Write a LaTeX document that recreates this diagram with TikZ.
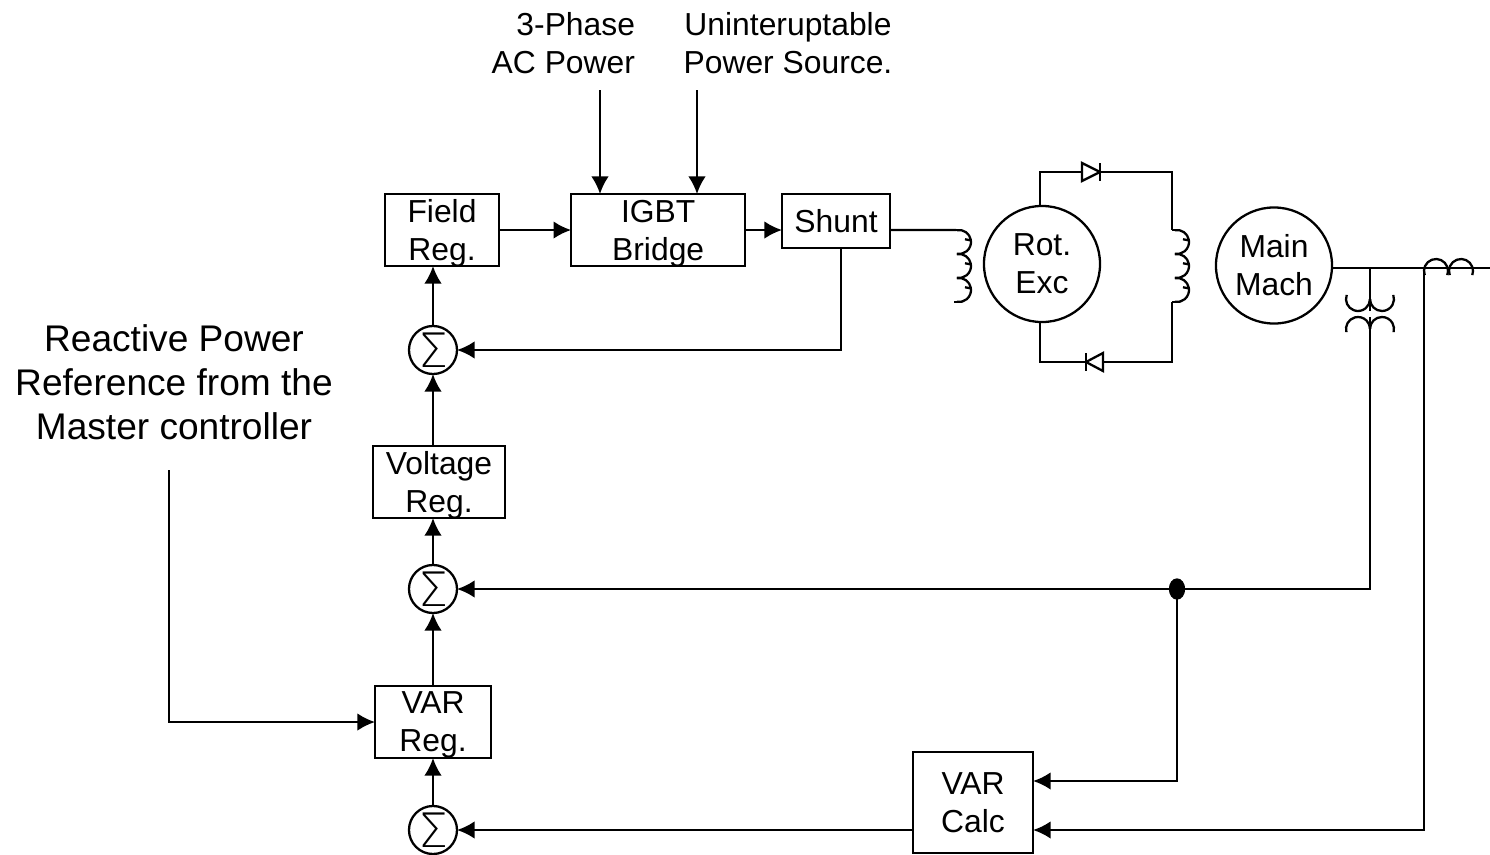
\documentclass[tikz,border=0pt]{standalone}
\usepackage{fontspec}
\setmainfont{Liberation Sans}
\newfontfamily\sigmafont{DejaVu Sans ExtraLight}
\usepackage{tikz}
\usetikzlibrary{arrows.meta, positioning, shapes.geometric, calc}

\tikzset{
    coil/.pic={
        \draw (-2,0) -- (3,0);
        \draw (-2,72) -- (3,72);
        \foreach \k in {0,1,2} {
            \draw[shift={(0,24*\k)}] (3,12) ++(100:0.12cm) arc[start angle=100, end angle=-100, radius=0.12cm];
            \draw[shift={(0,24*\k)}] (3,12) ++(8:0.12cm) -- ++(170:0.06cm);
        }
    }
}

\begin{document}
\begin{tikzpicture}[
    x=0.01cm, y=-0.01cm,
    line width=0.65pt,
    every node/.style={outer sep=0pt, font=\fontsize{9.05}{10.8}\selectfont},
    box/.style={draw, rectangle, inner sep=0pt, align=center, text depth=0pt},
    machine/.style={draw, circle, minimum size=1.16cm, inner sep=0pt, align=center},
    summer/.style={draw, circle, minimum size=0.48cm, inner sep=0pt, font=\sigmafont\fontsize{13.5}{13.5}\selectfont},
    textlabel/.style={align=center, inner sep=0pt},
    joint/.style={draw, fill=black, ellipse, minimum width=0.14cm, minimum height=0.19cm, inner sep=0pt},
    line/.style={draw, -{Latex[length=5pt, width=5pt]}},
    wire/.style={draw}
]
    \useasboundingbox (0,0) rectangle (1490,854);

    % Nodes
    \node[box, minimum width=1.14cm, minimum height=0.72cm, anchor=north west] (fieldreg) at (385,194) {Field\\Reg.};
    \node[box, right=0.72cm of fieldreg, minimum width=1.74cm, minimum height=0.72cm] (igbt) {IGBT\\Bridge};
    \node[box, minimum width=1.08cm, minimum height=0.54cm, anchor=north west] (shunt) at (782,194) {Shunt};
    \node[summer] (sumfield) at (433,350) {Σ};
    \node[box, minimum width=1.32cm, minimum height=0.72cm, anchor=north west] (voltreg) at (373,446) {Voltage\\Reg.};
    \node[summer] (sumvolt) at (433,589) {Σ};
    \node[box, minimum width=1.16cm, minimum height=0.72cm, anchor=north west] (varreg) at (375,686) {VAR\\Reg.};
    \node[summer] (sumvar) at (433,830) {Σ};
    \node[box, minimum width=1.2cm, minimum height=1.01cm, anchor=north west] (varcalc) at (913,752) {VAR\\Calc};
    \node[machine] (rotexc) at (1042,264) {Rot.\\Exc};
    \node[machine] (mainmach) at (1274,265.5) {Main\\Mach};
    \node[joint] (tap) at (1177,589) {};

    % Labels
    \node[textlabel, align=right, anchor=east] (acpower) at (635,43) {3-Phase\\AC Power};
    \node[textlabel] (upspower) at (788,43) {Uninteruptable\\Power Source.};
    \node[textlabel, font=\fontsize{10.55}{12.5}\selectfont] (varref) at (174,382) {Reactive Power\\Reference from the\\Master controller};

    % Free ends
    \coordinate (acin) at (600,90);
    \coordinate (upsin) at (697,90);
    \coordinate (refin) at (169,470);
    \coordinate (exccoil) at (956,230);
    \coordinate (rotcoiltop) at (1172,230);
    \coordinate (rotcoilbot) at (1172,302);
    \coordinate (diodetop) at (1082,172);
    \coordinate (diodetopend) at (1100,172);
    \coordinate (diodebot) at (1103,362);
    \coordinate (diodebotend) at (1086,362);
    \coordinate (busend) at (1490,268);
    \coordinate (pttop) at (1370,311);
    \coordinate (ptbot) at (1370,317);
    \coordinate (ctleft) at (1424,268);

    % Lines
    \draw[line] (acin) -- (acin |- igbt.north);
    \draw[line] (upsin) -- (upsin |- igbt.north);
    \draw[line] (fieldreg) -- (igbt);
    \draw[line] (igbt.east) -- (igbt.east -| shunt.west);
    \draw[wire] (igbt.east -| shunt.east) -- (exccoil);
    \draw[line] (shunt.south -| 841,0) |- (sumfield.east);
    \draw[line] (sumfield.north) -- (sumfield.north |- fieldreg.south);
    \draw[line] (sumfield.south |- voltreg.north) -- (sumfield.south);
    \draw[line] (sumvolt.north) -- (sumvolt.north |- voltreg.south);
    \draw[line] (sumvolt.south |- varreg.north) -- (sumvolt.south);
    \draw[line] (sumvar.north) -- (sumvar.north |- varreg.south);
    \draw[line] (varcalc.west |- sumvar.east) -- (sumvar.east);
    \draw[line] (refin) |- (varreg.west);

    % Feedback
    \draw[line] (ptbot) |- (sumvolt.east);
    \draw[line] (tap) |- (varcalc.east |- 0,781);
    \draw[line] (ctleft) |- (varcalc.east |- sumvar.east);

    % Rotor circuit
    \draw[wire] (rotexc.north -| 1040,0) |- (diodetop);
    \draw[wire] (diodetopend) -| (rotcoiltop);
    \draw[wire] (rotcoilbot) |- (diodebot);
    \draw[wire] (diodebotend) -| (rotexc.south -| 1040,0);
    \draw (diodetop) ++(0,-9) -- ++(0,18) -- (diodetopend) -- cycle;
    \draw (diodetopend) ++(0,-9) -- ++(0,18);
    \draw (diodebot) ++(0,-9) -- ++(0,18) -- (diodebotend) -- cycle;
    \draw (diodebotend) ++(0,-9) -- ++(0,18);
    \pic at (exccoil) {coil};
    \pic at ($(rotcoiltop)+(2,0)$) {coil};

    % Bus, PT and CT
    \draw[wire] (mainmach.east |- busend) -- (busend);
    \draw[wire] (pttop) -- (pttop |- busend);
    \draw (1358,299) ++(160:0.12cm) arc[start angle=160, end angle=360, radius=0.12cm];
    \draw (1382,299) ++(180:0.12cm) arc[start angle=180, end angle=380, radius=0.12cm];
    \draw (1358,329) ++(195:0.12cm) arc[start angle=195, end angle=0, radius=0.12cm];
    \draw (1382,329) ++(180:0.12cm) arc[start angle=180, end angle=-15, radius=0.12cm];
    \draw (1436,271) ++(200:0.12cm) arc[start angle=200, end angle=-20, radius=0.12cm];
    \draw (1461,271) ++(200:0.12cm) arc[start angle=200, end angle=-20, radius=0.12cm];
\end{tikzpicture}
\end{document}
